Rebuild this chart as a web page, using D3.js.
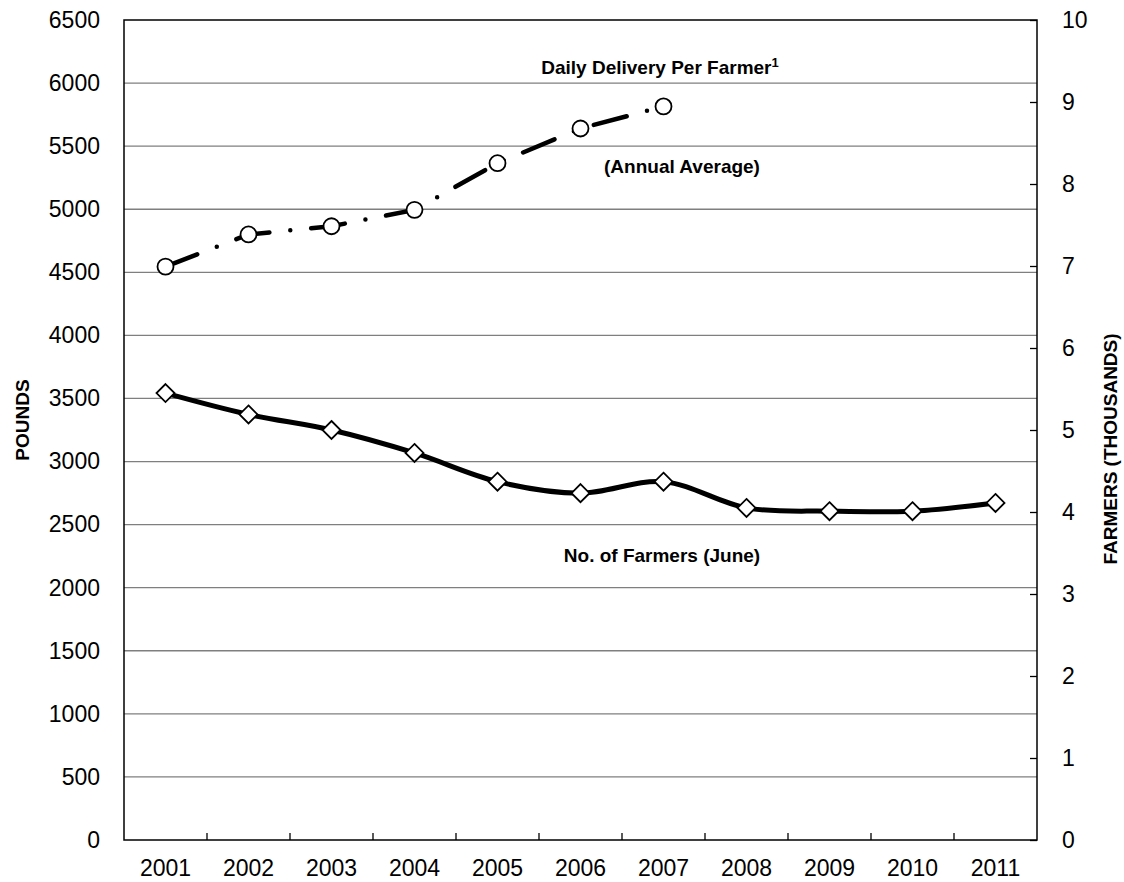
<!DOCTYPE html>
<html lang="en">
<head>
  <meta charset="UTF-8">
  <title>Daily Delivery Per Farmer and No. of Farmers</title>
  <script src="https://d3js.org/d3.v7.min.js"></script>
  <style>
    body { margin: 0; padding: 0; background: #fff; }
    svg { display: block; font-family: "Liberation Sans", Arial, sans-serif; }
  </style>
</head>
<body>
  <div id="chart"></div>
  <script>
    // Data
    const years = ["2001", "2002", "2003", "2004", "2005", "2006", "2007", "2008", "2009", "2010", "2011"];
    const deliveryYears = ["2001", "2002", "2003", "2004", "2005", "2006", "2007"];
    const deliveryPounds = [4545, 4800, 4865, 4995, 5365, 5640, 5815];
    const farmersThousands = [5.45, 5.19, 5.0, 4.72, 4.37, 4.23, 4.37, 4.05, 4.01, 4.01, 4.11];
    const leftTicks = d3.range(0, 6501, 500);
    const rightTicks = d3.range(0, 11, 1);

    const width = 1124, height = 882;
    const margin = { top: 20, right: 87, bottom: 42, left: 124 };

    const svg = d3.create("svg")
      .attr("width", width)
      .attr("height", height);

    const x = d3.scaleBand()
      .domain(years)
      .range([margin.left, width - margin.right]);

    const yLeft = d3.scaleLinear()
      .domain([0, 6500])
      .range([height - margin.bottom, margin.top]);

    const yRight = d3.scaleLinear()
      .domain([0, 10])
      .range([height - margin.bottom, margin.top]);

    // Gridlines
    svg.append("g")
      .selectAll("line")
      .data(leftTicks.slice(1, -1))
      .join("line")
      .attr("x1", margin.left)
      .attr("x2", width - margin.right)
      .attr("y1", d => yLeft(d))
      .attr("y2", d => yLeft(d))
      .attr("stroke", "#7f7f7f")
      .attr("stroke-width", 1.3);

    // Left axis
    const leftAxis = svg.append("g")
      .attr("transform", `translate(${margin.left},0)`)
      .call(d3.axisLeft(yLeft).tickValues(leftTicks).tickFormat(d3.format("d")).tickSize(0).tickPadding(24));
    leftAxis.select(".domain").remove();
    leftAxis.selectAll("text").attr("font-size", 23).attr("font-family", null).attr("fill", "#000");

    // Right axis (ticks point inward)
    const rightAxis = svg.append("g")
      .attr("transform", `translate(${width - margin.right},0)`)
      .call(d3.axisRight(yRight).tickValues(rightTicks).tickFormat(d3.format("d")).tickSize(-7).tickPadding(25));
    rightAxis.select(".domain").remove();
    rightAxis.selectAll("line").attr("stroke", "#000").attr("stroke-width", 1.3);
    rightAxis.selectAll("text").attr("font-size", 23).attr("font-family", null).attr("fill", "#000");

    // Bottom axis: labels centered in bands, ticks at band boundaries pointing up
    const bottom = svg.append("g");
    bottom.selectAll("line")
      .data(years.slice(1))
      .join("line")
      .attr("x1", d => x(d))
      .attr("x2", d => x(d))
      .attr("y1", height - margin.bottom)
      .attr("y2", height - margin.bottom - 7)
      .attr("stroke", "#000")
      .attr("stroke-width", 1.3);
    bottom.selectAll("text")
      .data(years)
      .join("text")
      .attr("x", d => x(d) + x.bandwidth() / 2)
      .attr("y", height - 6)
      .attr("text-anchor", "middle")
      .attr("font-size", 23)
      .text(d => d);

    // Frame
    svg.append("rect")
      .attr("x", margin.left)
      .attr("y", margin.top)
      .attr("width", width - margin.left - margin.right)
      .attr("height", height - margin.top - margin.bottom)
      .attr("fill", "none")
      .attr("stroke", "#000")
      .attr("stroke-width", 1.5);

    const cx = d => x(d) + x.bandwidth() / 2;

    // Daily delivery per farmer (dash-dot line, circles)
    svg.append("path")
      .datum(deliveryYears.map((d, i) => [cx(d), yLeft(deliveryPounds[i])]))
      .attr("d", d3.line())
      .attr("fill", "none")
      .attr("stroke", "#000")
      .attr("stroke-width", 4.5)
      .attr("stroke-linecap", "round")
      .attr("stroke-dasharray", "34,21,0,21");

    svg.append("g")
      .selectAll("circle")
      .data(deliveryYears)
      .join("circle")
      .attr("cx", d => cx(d))
      .attr("cy", (d, i) => yLeft(deliveryPounds[i]))
      .attr("r", 8)
      .attr("fill", "#fff")
      .attr("stroke", "#000")
      .attr("stroke-width", 1.8);

    // Number of farmers (smoothed solid line, diamonds)
    svg.append("path")
      .datum(years.map((d, i) => [cx(d), yRight(farmersThousands[i])]))
      .attr("d", d3.line().curve(d3.curveCatmullRom.alpha(0.5)))
      .attr("fill", "none")
      .attr("stroke", "#000")
      .attr("stroke-width", 5);

    svg.append("g")
      .selectAll("path")
      .data(years)
      .join("path")
      .attr("transform", (d, i) => `translate(${cx(d)},${yRight(farmersThousands[i])})`)
      .attr("d", "M0,-9L9,0L0,9L-9,0Z")
      .attr("fill", "#fff")
      .attr("stroke", "#000")
      .attr("stroke-width", 1.8);

    // Series labels
    const lbl = svg.append("g").attr("font-weight", "bold").attr("font-size", 19).attr("text-anchor", "middle");
    const t1 = lbl.append("text").attr("x", 660).attr("y", 74).text("Daily Delivery Per Farmer");
    t1.append("tspan").attr("font-size", 13).attr("dy", -7).text("1");
    lbl.append("text").attr("x", 682).attr("y", 173).text("(Annual Average)");
    lbl.append("text").attr("x", 662).attr("y", 562).text("No. of Farmers (June)");

    // Axis titles
    svg.append("text")
      .attr("transform", `translate(29,420) rotate(-90)`)
      .attr("text-anchor", "middle")
      .attr("font-weight", "bold")
      .attr("font-size", 19)
      .text("POUNDS");
    svg.append("text")
      .attr("transform", `translate(1117,449) rotate(-90)`)
      .attr("text-anchor", "middle")
      .attr("font-weight", "bold")
      .attr("font-size", 19)
      .text("FARMERS (THOUSANDS)");

    document.getElementById("chart").appendChild(svg.node());
  </script>
</body>
</html>
